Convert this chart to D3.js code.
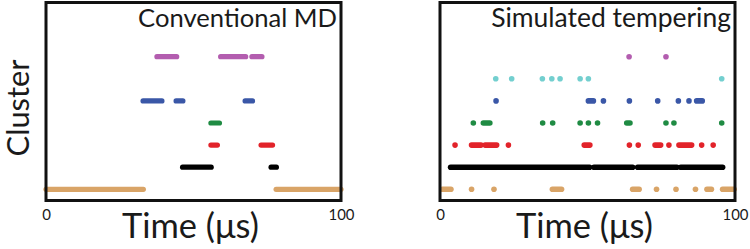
<!DOCTYPE html>
<html><head><meta charset="utf-8">
<script src="https://cdn.jsdelivr.net/npm/d3@7"></script>
<style>
body{margin:0;background:#fff;}
svg{display:block;}
text{font-family:Lato,sans-serif;fill:#1a1a1a;}
</style></head>
<body>
<svg id="c" width="750" height="249"></svg>
<script>
// ---- data ----
const clusterColors = ["#D9A467","#000000","#E2232A","#1F8B43","#3A57A7","#73CFCF","#B35DAF"]; // cluster 0..6
const timeTicks = [0, 100];
const panelTitles = ["Conventional MD", "Simulated tempering"];
const xLabel = "Time (\u03bcs)";
const yLabel = "Cluster";

// Conventional MD: intervals [start, end] (μs) per cluster
const mdOrange  = [[0,33],[78,100]];
const mdBlack   = [[46.3,56],[76.3,78.1]];
const mdRed     = [[55.9,58.1],[72.9,76.8]];
const mdGreen   = [[55.9,58.8]];
const mdBlue    = [[32.9,39.3],[44.1,46.4],[67.5,70]];
const mdCyan    = [];
const mdMagenta = [[37.6,44.3],[59.2,67.7],[69.8,73.2]];

// Simulated tempering: intervals [start, end] (μs); single visits have start = end
const stOrange  = [[0.8,3.7],[10.7,10.7],[18.3,18.3],[38.1,41.2],[65.3,67.5],[73.4,73.4],[80,80],[86.6,86.6],[90.5,92],[95.8,99.7]];
const stBlack   = [[3.6,50.7],[52.2,65.3],[67,80.3],[81.6,95.8]];
const stRed     = [[5.1,5.1],[10.7,13.9],[15.3,19.2],[23.2,23.2],[48.9,50.8],[64.2,64.2],[67.2,67.2],[72.9,74.8],[77.6,77.6],[81,85.3],[88.7,88.7],[92.6,92.6]];
const stGreen   = [[11.3,11.3],[14.7,16.9],[34.8,34.8],[38.2,38.2],[47.5,47.5],[50.3,50.3],[53.4,53.4],[63.3,64.4],[76.6,76.6],[79.3,79.3],[95.5,95.5]];
const stBlue    = [[19,19],[50.3,52],[55.4,55.4],[64.2,64.2],[73.8,73.8],[80.8,80.8],[84.4,84.4],[87,88.9]];
const stCyan    = [[18.9,18.9],[24.3,24.3],[34.7,34.7],[37.9,37.9],[40.7,40.7],[47.5,47.5],[50.3,50.3],[95.5,95.5]];
const stMagenta = [[64.1,64.1],[76.6,76.6]];

const panels = [
  {title: panelTitles[0], x0: 46, rows: [mdOrange, mdBlack, mdRed, mdGreen, mdBlue, mdCyan, mdMagenta], r: 2.6},
  {title: panelTitles[1], x0: 440, rows: [stOrange, stBlack, stRed, stGreen, stBlue, stCyan, stMagenta], r: 2.8}
];

const svg = d3.select("#c");
const W = 295, frameTop = 2.5, frameBottom = 200.5;
const y = d3.scaleLinear().domain([0, 6]).range([189.3, 56.7]);

function fitText(sel, target, size){
  sel.style("font-size", size + "px");
  const w = sel.node().getComputedTextLength();
  sel.style("font-size", (size * target / w).toFixed(2) + "px");
}

panels.forEach((p, pi) => {
  const x = d3.scaleLinear().domain([0, 100]).range([p.x0, p.x0 + W]);
  const g = svg.append("g");

  p.rows.forEach((row, k) => {
    g.selectAll(null).data(row).enter().append("rect")
      .attr("x", d => x(d[0]) - p.r)
      .attr("width", d => x(d[1]) - x(d[0]) + 2 * p.r)
      .attr("y", y(k) - p.r)
      .attr("height", 2 * p.r)
      .attr("rx", p.r).attr("ry", p.r)
      .attr("fill", clusterColors[k]);
  });

  g.append("rect").attr("x", p.x0).attr("y", frameTop).attr("width", W).attr("height", frameBottom - frameTop)
    .attr("fill", "none").attr("stroke", "#111").attr("stroke-width", 3);

  const t = g.append("text").attr("x", pi === 0 ? 337 : 731).attr("y", 27)
    .attr("text-anchor", "end").text(p.title);
  fitText(t, pi === 0 ? 199 : 240, 24);

  const ax = g.append("g").attr("transform", `translate(0,${frameBottom + 9})`)
    .call(d3.axisBottom(x).tickValues(timeTicks).tickSize(0).tickPadding(0).tickFormat(d3.format("d")));
  ax.select(".domain").remove();
  ax.selectAll("text").style("font-family", "Lato,sans-serif").style("font-size", "15px").attr("fill", "#222").attr("dy", "0.71em");
  ax.selectAll("text").filter(d => d === 100).each(function(){ fitText(d3.select(this), 26, 15); });

  const xl = g.append("text").attr("x", p.x0 + W / 2 - 3).attr("y", 238)
    .attr("text-anchor", "middle").text(xLabel);
  fitText(xl, 137, 33);
});

const yl = svg.append("text").attr("transform", "translate(29,108) rotate(-90)")
  .attr("text-anchor", "middle").text(yLabel);
fitText(yl, 97, 33);
</script>
</body></html>
